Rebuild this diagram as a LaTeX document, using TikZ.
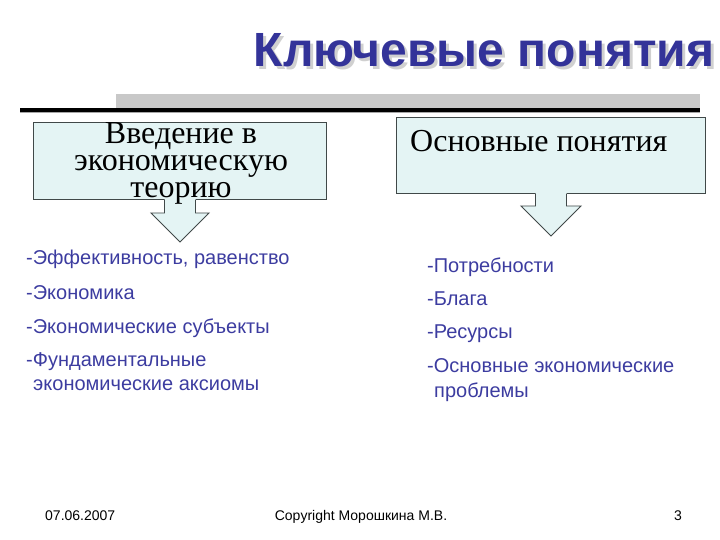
\documentclass[tikz,border=0pt]{standalone}
\usepackage{fontspec}
\setmainfont{Liberation Serif}
\setsansfont{Liberation Sans}
\usetikzlibrary{calc}
\definecolor{titleblue}{HTML}{333399}
\definecolor{listblue}{HTML}{3C3CA0}
\definecolor{boxfill}{HTML}{E4F4F4}
\definecolor{boxline}{HTML}{404848}
\definecolor{bargray}{HTML}{C8C8C8}
\tikzset{
  box/.style={draw=boxline,line width=1pt,fill=boxfill,inner sep=0pt,anchor=north west},
  arrowfill/.style={fill=boxfill},
  arrowline/.style={draw=boxline,line width=0.9pt,line join=miter},
  listitem/.style={anchor=base west,text=listblue,font=\sffamily\fontsize{20}{24.5}\selectfont,align=left,inner sep=0pt},
  foot/.style={font=\sffamily\fontsize{14}{16}\selectfont,inner sep=0pt,anchor=base},
  boxtext/.style={font=\rmfamily\fontsize{32}{27}\selectfont,inner sep=0pt},
  titletext/.style={font=\sffamily\bfseries\fontsize{48}{50}\selectfont,inner sep=0pt}
}
\begin{document}
\begin{tikzpicture}[x=1pt,y=-1pt]
\useasboundingbox (0,0) rectangle (720,540);
% title with shadow
\node (shadow) [titletext,text=bargray!85] at (487,53) {Ключевые понятия};
\node (title) [titletext,text=titleblue] at (484,50) {Ключевые понятия};
% rules
\fill[bargray] (116,94) rectangle (700,108);
\fill[black] (20,108.5) rectangle (700,112);
\fill[gray!70] (20,112) rectangle (700,113.5);
% boxes
\node (lb) [box,minimum width=293pt,minimum height=77pt] at (33,122) {};
\node (rb) [box,minimum width=309pt,minimum height=76pt] at (396,117) {};
% arrows
\begin{scope}[shift={(lb.south)}]
  \fill[arrowfill] (-15.5,-1.5) -- (-15.5,13) -- (-29,13) -- (0,42) -- (29,13) -- (15.5,13) -- (15.5,-1.5) -- cycle;
  \draw[arrowline] (-15.5,0) -- (-15.5,13) -- (-29,13) -- (0,42) -- (29,13) -- (15.5,13) -- (15.5,0);
\end{scope}
\begin{scope}[shift={(rb.south)}]
  \fill[arrowfill] (-15.5,-1.5) -- (-15.5,12) -- (-30,12) -- (0,42) -- (30,12) -- (15.5,12) -- (15.5,-1.5) -- cycle;
  \draw[arrowline] (-15.5,0) -- (-15.5,12) -- (-30,12) -- (0,42) -- (30,12) -- (15.5,12) -- (15.5,0);
\end{scope}
% box texts
\node (lbt) [boxtext,align=center] at (181,163) {Введение в\\экономическую\\теорию};
\node (rbt) [boxtext,anchor=west] at (410,141) {Основные понятия};
% left list
\node (l1) [listitem] at (26,264) {-Эффективность, равенство};
\node (l2) [listitem] at (26,299.5) {-Экономика};
\node (l3) [listitem] at (26,333) {-Экономические субъекты};
\node (l4) [listitem] at (26,366) {-Фундаментальные};
\node (l5) [listitem] at (26,390) {\hspace*{7pt}экономические аксиомы};
% right list
\node (r1) [listitem] at (427,272) {-Потребности};
\node (r2) [listitem] at (427,305) {-Блага};
\node (r3) [listitem] at (427,338) {-Ресурсы};
\node (r4) [listitem] at (427,372) {-Основные экономические};
\node (r5) [listitem] at (427,397) {\hspace*{7pt}проблемы};
% footer
\node (date) [foot,anchor=base west] at (45,520) {07.06.2007};
\node (copy) [foot] at (361,520) {Copyright Морошкина М.В.};
\node (page) [foot] at (678,520) {3};
\end{tikzpicture}
\end{document}
